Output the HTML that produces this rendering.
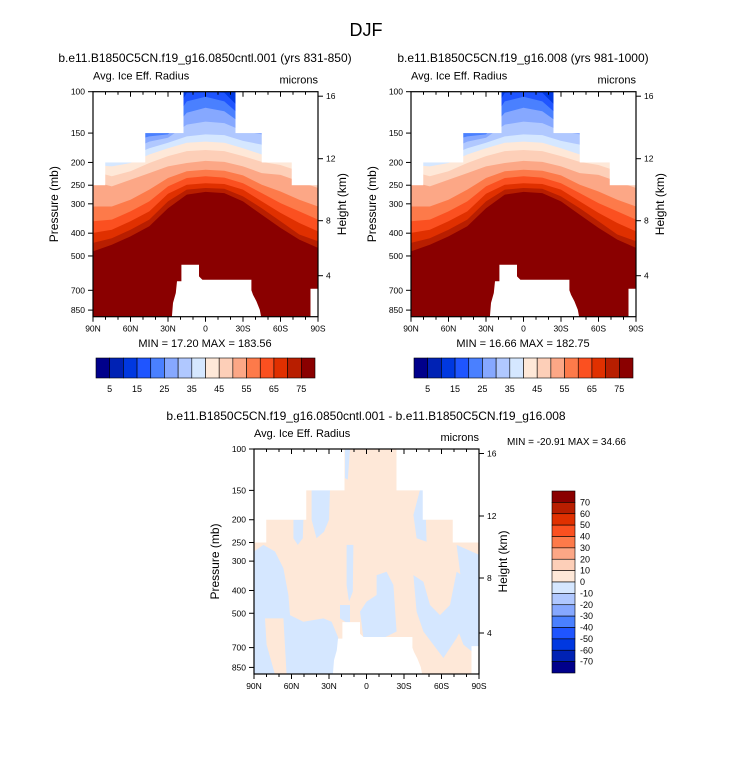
<!DOCTYPE html>
<html><head><meta charset="utf-8"><style>
body{margin:0;background:#fff;}
svg text{font-family:"Liberation Sans",sans-serif;fill:#000;}
</style></head><body>
<svg id="s" width="733" height="770" viewBox="0 0 733 770">
<text x="366" y="36" font-size="18" text-anchor="middle">DJF</text>
</svg>
<script>
const lats=[90,75,60,45,30,15,0,-15,-30,-45,-60,-75,-90];
// pressure (mb) where field crosses thresholds 75,70,...,15 at each lat
const bounds=[
[478,440,399,356,308,241,218,205,191,179,168,157,147],
[448,420,387,350,308,253,229,208,195,179,168,157,147],
[413,387,356,323,288,237,218,201,188,177,163,152,143],
[374,350,323,293,261,222,201,185,174,163,155,147,141],
[313,293,272,253,233,208,188,174,165,157,152,145,138],
[274,261,249,233,218,201,179,165,155,138,123,110,101],
[267,257,245,229,215,197,177,163,152,134,117,105,100],
[270,259,247,232,217,199,179,165,153,136,121,110,101],
[293,279,261,245,227,208,188,174,162,147,138,129,121],
[334,313,293,270,249,222,199,185,168,152,143,134,123],
[380,356,328,298,266,226,205,188,177,168,155,145,136],
[426,405,362,323,288,241,218,205,191,179,168,157,147],
[462,433,393,350,308,257,233,215,201,191,177,165,155]];
const bandColors=["#b81e00","#e03000","#fb5020","#fd7a4a","#fca786","#fdcfb8","#fee8d8","#d5e7ff","#b0c8ff","#86a8ff","#4a80ff","#1f55ff","#0038e0"];
const maskLat=[90,80.6,48.6,18,-24,-45,-69,-90];
const maskTop=[250,200,150,100,150,200,250];
const orog=[[27.5,1000],[26,793],[23.8,719],[22.8,641],[19.3,641],[19.3,545],[5.2,545],[5.2,611],[2.5,631],[-36.7,631],[-36.7,700],[-38,731],[-40.7,780],[-43.4,847],[-46,1000]];
const orog2=[[-84,1000],[-84,690],[-90,690],[-90,1000]];
const cbColors=["#00008b","#0022b4","#0038e0","#1f55ff","#4a80ff","#86a8ff","#b0c8ff","#d5e7ff","#fee8d8","#fdcfb8","#fca786","#fd7a4a","#fb5020","#e03000","#b81e00","#8a0000"];
const cbLabels=["5","15","25","35","45","55","65","75"];
const diffLabels=["70","60","50","40","30","20","10","0","-10","-20","-30","-40","-50","-60","-70"];
const negPatches=[
[[90,273],[82.5,256],[73.2,273],[66.5,322],[62.5,418],[61.2,509],[50.5,543],[34.5,526],[27.9,543],[22.5,637],[25.2,913],[90,913]],
[[17.2,100],[13.2,100],[15,135],[17.2,133]],
[[43.9,149],[29.2,149],[30,200],[34,225],[40,240],[43.9,200]],
[[58.5,200],[50.5,200],[51,240],[55,256],[58.5,240]],
[[-8.1,344],[-16.1,333],[-21.5,379],[-24.1,598],[-13.5,637],[2.5,637],[5.2,492],[-0.1,446],[-8.1,418]],
[[21.2,461],[13.2,461],[13.2,561],[21.2,526]],
[[15.9,256],[10.5,256],[11,405],[14,446],[15.9,380]],
[[-37.5,344],[-45.5,367],[-50.8,461],[-58.8,509],[-66.8,461],[-72.1,333],[-80.1,355],[-77.5,561],[-72.1,637],[-61.5,775],[-45.5,598],[-40.1,492]],
[[-72.1,256],[-90,282],[-90,913],[-84.1,913],[-84.1,726],[-77.5,680],[-73.5,598],[-77.5,405],[-74.8,333]],
[[-42.8,149],[-46.8,149],[-48.1,248],[-40.1,240],[-37.5,191]]];
const posPatches=[[[81.2,526],[66.5,526],[63.9,913],[73.2,913],[79.9,680]]];
const pTicks=[100,150,200,250,300,400,500,700,850];
const hTicks=[16,12,8,4];
const hOff=[4.5,67,129,184];
const latTicks=["90N","60N","30N","0","30S","60S","90S"];

const S=document.getElementById('s');const NS="http://www.w3.org/2000/svg";
function mk(t,a,p){const e=document.createElementNS(NS,t);for(const k in a)e.setAttribute(k,a[k]);(p||S).appendChild(e);return e;}
function txt(x,y,s,sz,anc,p){const e=mk('text',{x:x,y:y,'font-size':sz,'text-anchor':anc||'start'},p);e.textContent=s;return e;}

function panel(L,T,id,diff){
  const W=225,H=225;
  const X=lat=>L+(90-lat)/180*W;
  const Y=p=>T+235*Math.log10(p/100);
  const g=mk('g',{});
  
  
  const cp=mk('clipPath',{id:'c'+id},g);mk('rect',{x:L,y:T,width:W,height:H},cp);
  const f=mk('g',{'clip-path':'url(#c'+id+')'},g);
  const pts=a=>a.map(q=>X(q[0]).toFixed(1)+','+Y(q[1]).toFixed(1)).join(' ');
  if(!diff){
    const r=mk('rect',{x:L,y:T,width:W,height:H,fill:'#8a0000'},f);
    
    
    for(let k=0;k<13;k++){
      const a=lats.map((la,i)=>[la,bounds[i][k]]);
      a.push([-90,90]);a.push([90,90]);
      const pg=mk('polygon',{points:pts(a),fill:bandColors[k]},f);
      
      
    }
  } else {
    mk('rect',{x:L,y:T,width:W,height:H,fill:'#fee8d8'},f);
    negPatches.forEach(a=>{const pg=mk('polygon',{points:pts(a),fill:'#d5e7ff'},f);
      
      });
    posPatches.forEach(a=>{const pg=mk('polygon',{points:pts(a),fill:'#fee8d8'},f);
      
      });
  }
  for(let i=0;i<maskTop.length;i++){
    mk('rect',{x:X(maskLat[i]),y:T-1,width:X(maskLat[i+1])-X(maskLat[i])+0.5,height:Y(maskTop[i])-T+1,fill:'#fff'},f);
  }
  mk('polygon',{points:pts(orog),fill:'#fff'},f);
  mk('polygon',{points:pts(orog2),fill:'#fff'},f);
  mk('rect',{x:L,y:T,width:W,height:H,fill:'none',stroke:'#000','stroke-width':1.2},g);
  pTicks.forEach(p=>{const y=Y(p);mk('line',{x1:L-5,y1:y,x2:L,y2:y,stroke:'#000'},g);txt(L-8,y+3,String(p),8.5,'end',g);});
  hTicks.forEach((h,i)=>{const y=T+hOff[i];mk('line',{x1:L+W,y1:y,x2:L+W+5,y2:y,stroke:'#000'},g);txt(L+W+8,y+3,String(h),8.5,'start',g);});
  latTicks.forEach((s,i)=>{const x=L+i*W/6;mk('line',{x1:x,y1:T+H,x2:x,y2:T+H+5,stroke:'#000'},g);mk('line',{x1:x,y1:T,x2:x,y2:T+5,stroke:'#000'},g);txt(x,T+H+15,s,8.5,'middle',g);
    if(i<6)for(let j=1;j<3;j++){const xm=x+j*W/18;mk('line',{x1:xm,y1:T,x2:xm,y2:T+3,stroke:'#000'},g);mk('line',{x1:xm,y1:T+H,x2:xm,y2:T+H+3,stroke:'#000'},g);}});
  const yt=txt(0,0,'Pressure (mb)',12,'middle',g);yt.setAttribute('transform','translate('+(L-35)+','+(T+H/2)+') rotate(-90)');
  const ht=txt(0,0,'Height (km)',12,'middle',g);ht.setAttribute('transform','translate('+(L+W+28)+','+(T+H/2)+') rotate(-90)');
  txt(L,T-12,'Avg. Ice Eff. Radius',11,'start',g);
  txt(L+W,T-8,'microns',11,'end',g);
}
function hbar(L,T){
  const g=mk('g',{});
  
  
  const w=219/16;
  cbColors.forEach((c,i)=>mk('rect',{x:L+i*w,y:T,width:w,height:20,fill:c,stroke:'#000','stroke-width':0.6},g));
  cbLabels.forEach((s,i)=>txt(L+(2*i+1)*w,T+34,s,9,'middle',g));
}
panel(93,91.7,'left',false);
panel(411,91.7,'right',false);
panel(254,449,'diff',true);
txt(205,62,'b.e11.B1850C5CN.f19_g16.0850cntl.001 (yrs 831-850)',12,'middle');
txt(523,62,'b.e11.B1850C5CN.f19_g16.008 (yrs 981-1000)',12,'middle');
txt(366,420,'b.e11.B1850C5CN.f19_g16.0850cntl.001 - b.e11.B1850C5CN.f19_g16.008',12,'middle');
txt(205,347,'MIN =  17.20  MAX = 183.56',11,'middle');
txt(523,347,'MIN =  16.66  MAX = 182.75',11,'middle');
txt(507,445,'MIN = -20.91  MAX =  34.66',10,'start');
hbar(96,358);hbar(414,358);
(function(){const g=mk('g',{});
  
  
  const h=182/16;
  for(let i=0;i<16;i++)mk('rect',{x:552,y:491+i*h,width:23,height:h,fill:cbColors[15-i],stroke:'#000','stroke-width':0.6},g);
  diffLabels.forEach((s,i)=>txt(580,491+(i+1)*h+3,s,9,'start',g));
})();
</script>
</body></html>
